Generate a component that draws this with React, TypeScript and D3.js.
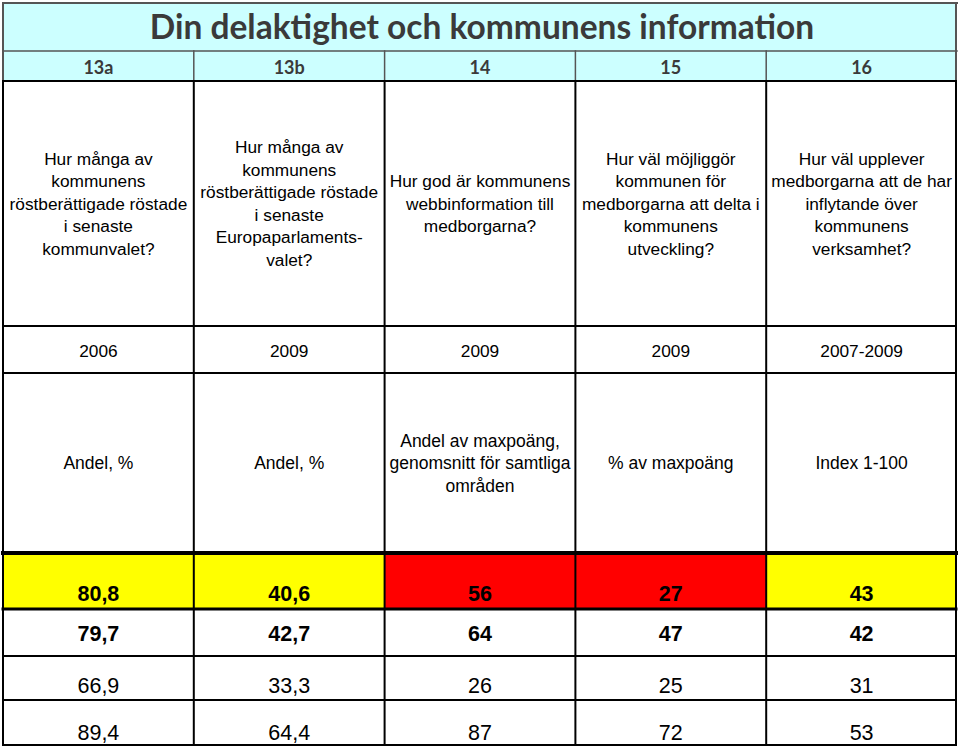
import React from "react";
import * as d3 from "d3";

const title = "Din delaktighet och kommunens information";
const columns = ["13a", "13b", "14", "15", "16"];
const questions = [
  ["Hur många av", "kommunens", "röstberättigade röstade", "i senaste", "kommunvalet?"],
  ["Hur många av", "kommunens", "röstberättigade röstade", "i senaste", "Europaparlaments-", "valet?"],
  ["Hur god är kommunens", "webbinformation till", "medborgarna?"],
  ["Hur väl möjliggör", "kommunen för", "medborgarna att delta i", "kommunens", "utveckling?"],
  ["Hur väl upplever", "medborgarna att de har", "inflytande över", "kommunens", "verksamhet?"],
];
const years = ["2006", "2009", "2009", "2009", "2007-2009"];
const units = [
  ["Andel, %"],
  ["Andel, %"],
  ["Andel av maxpoäng,", "genomsnitt för samtliga", "områden"],
  ["% av maxpoäng"],
  ["Index 1-100"],
];
const row1 = ["80,8", "40,6", "56", "27", "43"];
const row1Status = ["yellow", "yellow", "red", "red", "yellow"];
const row2 = ["79,7", "42,7", "64", "47", "42"];
const row3 = ["66,9", "33,3", "26", "25", "31"];
const row4 = ["89,4", "64,4", "87", "72", "53"];

const statusColor: Record<string, string> = { yellow: "#FFFF00", red: "#FF0000" };

export default function App() {
  const W = 960;
  const H = 748;
  const left = 3;
  const right = 957;
  const x = d3.scaleBand<string>().domain(columns).range([left, right]);
  const bw = x.bandwidth();
  const cx = (c: string) => (x(c) as number) + bw / 2;

  const yTop = 3;
  const yTitle = 51;
  const ySub = 81;
  const yQ = 326;
  const yYear = 373;
  const yUnit = 553;
  const yR1 = 609;
  const yR2 = 656;
  const yR3 = 700;
  const yR4 = 745;

  const bodyFont = "'Liberation Sans', Arial, Helvetica, sans-serif";
  const headFont = "Lato, 'Open Sans', sans-serif";

  const multiline = (lines: string[], xc: number, yc: number, lh: number, fs: number, key: string) => {
    const n = lines.length;
    const y0 = yc - ((n - 1) * lh) / 2 + fs * 0.36;
    return (
      <text key={key} textAnchor="middle" fontFamily={bodyFont} fontSize={fs} fill="#000">
        {lines.map((l, i) => (
          <tspan key={i} x={xc} y={y0 + i * lh}>
            {l}
          </tspan>
        ))}
      </text>
    );
  };

  const valueRows = [
    { vals: row1, base: yR1 - 8, bold: true },
    { vals: row2, base: yR2 - 15, bold: true },
    { vals: row3, base: yR3 - 7, bold: false },
    { vals: row4, base: yR4 - 5, bold: false },
  ];

  return (
    <svg
      width={W}
      height={H}
      style={{ position: "fixed", left: 0, top: 0, background: "#fff" }}
    >
      <rect x={0} y={0} width={W} height={H} fill="#fff" />
      <rect x={left} y={yTop} width={right - left} height={ySub - yTop} fill="#CCFFFF" />
      {columns.map((c, i) => (
        <rect
          key={"s" + c}
          x={x(c) as number}
          y={yUnit}
          width={bw}
          height={yR1 - yUnit}
          fill={statusColor[row1Status[i]]}
        />
      ))}

      <text
        x={(left + right) / 2 + 2}
        y={(yTop + yTitle) / 2 + 12}
        textAnchor="middle"
        fontFamily={headFont}
        fontWeight={700}
        fontSize={33.5}
        fill="#3a3a3a"
      >
        {title}
      </text>
      {columns.map((c) => (
        <text
          key={"h" + c}
          x={cx(c)}
          y={74}
          textAnchor="middle"
          fontFamily={headFont}
          fontWeight={700}
          fontSize={18}
          fill="#3a3a3a"
        >
          {c}
        </text>
      ))}

      {columns.map((c, i) => multiline(questions[i], cx(c), (ySub + yQ) / 2, 22.5, 17.3, "q" + c))}
      {columns.map((c, i) => (
        <text
          key={"y" + c}
          x={cx(c)}
          y={357}
          textAnchor="middle"
          fontFamily={bodyFont}
          fontSize={17.3}
          fill="#000"
        >
          {years[i]}
        </text>
      ))}
      {columns.map((c, i) => multiline(units[i], cx(c), (yYear + yUnit) / 2, 22.5, 17.5, "u" + c))}

      {valueRows.map((r, ri) =>
        columns.map((c, i) => (
          <text
            key={"v" + ri + c}
            x={cx(c)}
            y={r.base}
            textAnchor="middle"
            fontFamily={bodyFont}
            fontWeight={r.bold ? 700 : 400}
            fontSize={21.5}
            fill="#000"
          >
            {r.vals[i]}
          </text>
        ))
      )}

      <g fill="none" strokeLinecap="square">
        <line x1={left} x2={right} y1={yTop} y2={yTop} stroke="#555" strokeWidth={2} />
        <line x1={left} x2={right} y1={yTitle} y2={yTitle} stroke="#555" strokeWidth={1.5} />
        <line x1={left} x2={left} y1={yTop} y2={ySub} stroke="#555" strokeWidth={2} />
        <line x1={right - 1} x2={right - 1} y1={yTop} y2={ySub} stroke="#555" strokeWidth={2} />
        {columns.slice(1).map((c) => (
          <line key={"hv" + c} x1={x(c) as number} x2={x(c) as number} y1={yTitle} y2={ySub} stroke="#555" strokeWidth={1.5} />
        ))}
        {[ySub, yQ, yYear, yR2, yR3, yR4].map((y, i) => (
          <line key={"hl" + i} x1={left} x2={right - 1} y1={y} y2={y} stroke="#000" strokeWidth={2} />
        ))}
        <line x1={left} x2={right - 1} y1={yUnit} y2={yUnit} stroke="#000" strokeWidth={4} />
        <line x1={left} x2={right - 1} y1={yR1} y2={yR1} stroke="#000" strokeWidth={3} />
        {columns.map((c) => (
          <line key={"vl" + c} x1={x(c) as number} x2={x(c) as number} y1={ySub} y2={yR4} stroke="#000" strokeWidth={2} />
        ))}
        <line x1={right - 1} x2={right - 1} y1={ySub} y2={yR4} stroke="#000" strokeWidth={2} />
      </g>
    </svg>
  );
}
